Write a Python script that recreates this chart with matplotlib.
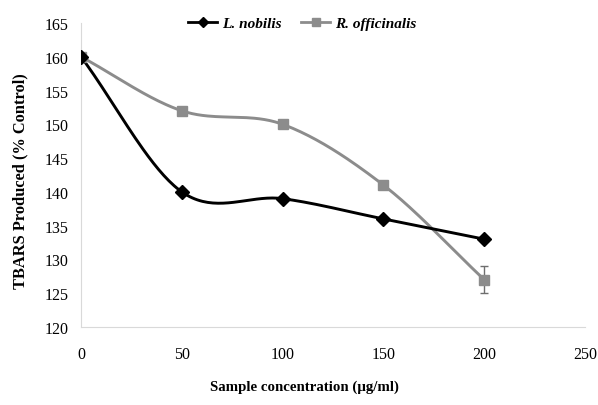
import numpy as np
import matplotlib.pyplot as plt

plt.rcParams['font.family'] = ['Liberation Serif', 'DejaVu Serif']

conc = [0, 50, 100, 150, 200]
nobilis = [160, 140, 139, 136, 133]
officinalis = [160, 152, 150, 141, 127]
officinalis_err = [0, 0, 0, 0, 2]


def smooth(x, y, n=40):
    # Catmull-Rom like Excel's smoothed line
    x = np.asarray(x, float)
    y = np.asarray(y, float)
    px = np.concatenate([[2 * x[0] - x[1]], x, [2 * x[-1] - x[-2]]])
    py = np.concatenate([[2 * y[0] - y[1]], y, [2 * y[-1] - y[-2]]])
    xs, ys = [], []
    t = np.linspace(0, 1, n)
    for i in range(1, len(px) - 2):
        p0, p1, p2, p3 = [np.array([px[j], py[j]]) for j in range(i - 1, i + 3)]
        c1 = p1 + (p2 - p0) / 6
        c2 = p2 - (p3 - p1) / 6
        b = ((1 - t) ** 3)[:, None] * p1 + (3 * (1 - t) ** 2 * t)[:, None] * c1 \
            + (3 * (1 - t) * t ** 2)[:, None] * c2 + (t ** 3)[:, None] * p2
        xs.extend(b[:, 0])
        ys.extend(b[:, 1])
    return np.array(xs), np.array(ys)


fig = plt.figure(figsize=(5.98, 4.06), dpi=100)
ax = fig.add_axes([0.1355, 0.192, 0.843, 0.749])

sx, sy = smooth(conc, nobilis)
ax.plot(sx, sy, color='black', lw=2.1, zorder=3)
ax.plot(conc, nobilis, 'D', color='black', ms=7, zorder=4)
sx, sy = smooth(conc, officinalis)
ax.plot(sx, sy, color='#8c8c8c', lw=2.1, zorder=2)
ax.errorbar(conc, officinalis, yerr=officinalis_err, fmt='s', color='#8c8c8c',
            ms=7, ecolor='#6e6e6e', elinewidth=1, capsize=3, zorder=3)

ax.plot([], [], color='black', lw=2, marker='D', ms=5, label='L. nobilis')
ax.plot([], [], color='#8c8c8c', lw=2, marker='s', ms=6, label='R. officinalis')

ax.set_xlim(0, 250)
ax.set_ylim(120, 165)
ax.set_xticks(range(0, 251, 50))
ax.set_yticks(range(120, 166, 5))
for s in ['top', 'right']:
    ax.spines[s].set_visible(False)
for s in ['left', 'bottom']:
    ax.spines[s].set_color('#d9d9d9')
ax.tick_params(length=0, labelsize=11.5)
ax.tick_params(axis='x', pad=14)
ax.tick_params(axis='y', pad=9)
ax.set_xlabel('Sample concentration (µg/ml)', fontsize=10.7, fontweight='bold', va='center')
ax.set_ylabel('TBARS Produced (% Control)', fontsize=11.8, fontweight='bold')
ax.xaxis.set_label_coords((304 - 81) / 504, -59 / 304)
ax.yaxis.set_label_coords(-(81 - 28) / 504, (328 - 181) / 304)

leg = fig.legend(loc='center', bbox_to_anchor=(302 / 598, 1 - 24 / 406), ncol=2, frameon=False,
                 prop={'style': 'italic', 'weight': 'bold', 'size': 11},
                 handlelength=1.9, handletextpad=0.3, columnspacing=1.3, borderaxespad=0)

fig.savefig('out.png', dpi=100)
